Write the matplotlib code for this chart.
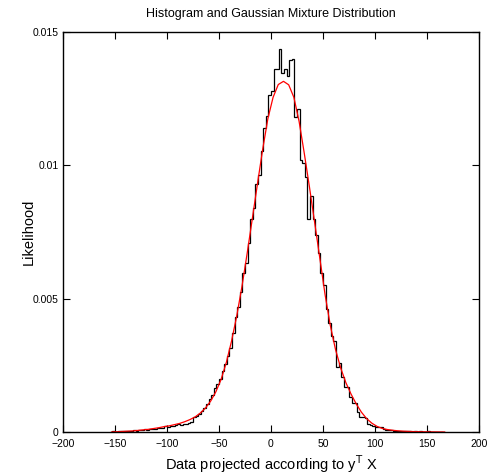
import numpy as np
import matplotlib
matplotlib.use("Agg")
import matplotlib.pyplot as plt

plt.rcParams["font.family"] = ["Liberation Sans", "DejaVu Sans"]

# histogram: 128 bins of width 2.5 starting at -155, heights in units of 1e-4
hist_start = -155.0
hist_width = 2.5
hist_heights = [
    0, 0.21, 0, 0.21, 0.21, 0.42, 0.21, 0.42, 0.42, 0.63,
    0.42, 0.84, 0.63, 1.05, 0.84, 1.05, 1.26, 1.05, 1.68, 1.47,
    1.68, 2.1, 1.89, 2.31, 2.1, 2.73, 2.94, 2.52, 3.15, 3.0,
    3.4, 3.9, 5.6, 5.9, 6.8, 7.8, 9.0, 10.5, 12.5, 14.0,
    16.5, 18.0, 20.0, 23, 25.5, 28.5, 31.5, 37, 43, 47,
    52.5, 59.5, 63.5, 71, 80, 84, 93, 96.5, 105.5, 114,
    118.5, 126.5, 128, 136, 136, 143.5, 134.5, 136, 133.5, 139.5,
    140, 118, 121, 102, 101, 95.5, 80, 88.5, 80, 74,
    67, 59.5, 55, 46, 41, 36, 34, 24.5, 26, 20.5,
    17, 17, 13, 11, 11, 7.5, 5.7, 5.8, 5.2, 2.9,
    2.6, 2.3, 2.0, 1.9, 1.9, 1.05, 0.84, 0.63, 0.84, 0.42,
    0.42, 0.21, 0.42, 0.21, 0.21, 0.21, 0, 0.21, 0, 0.21,
    0, 0, 0.21, 0, 0, 0, 0, 0,
]

# gaussian mixture curve sampled every 5 units from -153, units of 1e-4
gmm_start = -153.0
gmm_step = 5.0
gmm_values = [
    0.05, 0.1, 0.2, 0.3, 0.4, 0.6, 0.8, 1.0, 1.3, 1.6,
    2.0, 2.3, 2.75, 3.2, 3.85, 4.65, 5.65, 7.1, 9.0, 11.6,
    15.1, 19.7, 26.0, 34.0, 43.4, 54.4, 66.8, 79.9, 93.1, 106,
    117.5, 125.5, 130.3, 131.5, 130.2, 125.5, 116.5, 104.5, 91.8, 78.5,
    65, 51.5, 40, 31, 24, 18.5, 14.2, 10.5, 7.4, 5.0,
    3.3, 2.1, 1.33, 0.92, 0.65, 0.45, 0.3, 0.22, 0.16, 0.12,
    0.09, 0.06, 0.04, 0.02, 0.01,
]

x_ticks = [-200, -150, -100, -50, 0, 50, 100, 150, 200]
y_ticks = [0, 0.005, 0.01, 0.015]
y_tick_labels = ["0", "0.005", "0.01", "0.015"]

edges = hist_start + hist_width * np.arange(len(hist_heights) + 1)
hist = np.array(hist_heights) * 1e-4
gx = gmm_start + gmm_step * np.arange(len(gmm_values))
gy = np.array(gmm_values) * 1e-4

fig = plt.figure(figsize=(4.88, 4.75), dpi=100)
ax = fig.add_axes([63 / 488, 43 / 475, 416 / 488, 400 / 475])

ax.stairs(hist, edges, color="black", linewidth=0.9)
ax.plot(gx, gy, color="red", linewidth=0.9)

ax.set_xlim(-200, 200)
ax.set_ylim(0, 0.015)
ax.set_xticks(x_ticks)
ax.set_yticks(y_ticks)
ax.set_yticklabels(y_tick_labels)
ax.tick_params(direction="in", top=True, right=True, length=5, width=0.8,
               labelsize=7.5)
ax.tick_params(axis="x", pad=5)
ax.tick_params(axis="y", pad=3)
for s in ax.spines.values():
    s.set_linewidth(1.0)

ax.set_title("Histogram and Gaussian Mixture Distribution", fontsize=9, pad=11)
ax.set_xlabel("Data projected according to y$^{\\mathrm{T}}$ X", fontsize=10.5, labelpad=3)
ax.set_ylabel("Likelihood", fontsize=10.5)
ax.yaxis.set_label_coords(-0.065, 0.5)

fig.savefig("out.png", dpi=100)
